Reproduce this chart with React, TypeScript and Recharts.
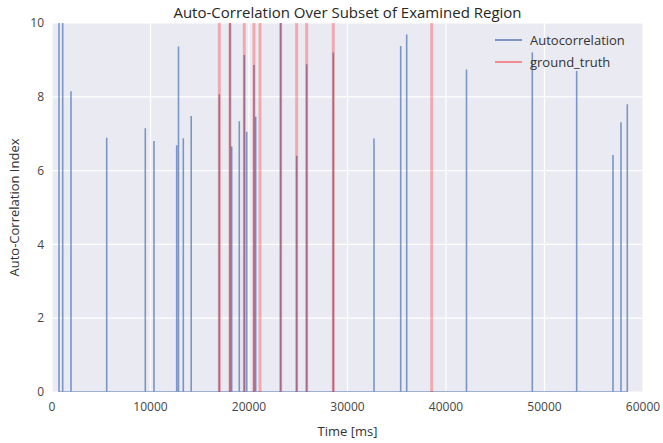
import React from 'react';
import { LineChart, Line, XAxis, YAxis, CartesianGrid, Label } from 'recharts';

// autocorrelation peaks (time in ms, index value)
const spikeTimes = [
  711, 1086, 1929, 5553, 9472, 10355, 12659, 12842, 13330, 14131, 16985, 18071, 18243, 19015, 19522, 19766,
  20507, 20680, 23218, 24842, 25857, 28558, 32689, 35400, 36010, 42080, 48760, 53267, 56952, 57765, 58405,
];
const spikeValues = [
  10.6, 10.6, 8.15, 6.89, 7.15, 6.8, 6.69, 9.36, 6.88, 7.48, 8.07, 10.6, 6.65, 7.34, 9.13, 7.05,
  8.86, 7.46, 10.6, 6.4, 8.88, 9.2, 6.87, 9.38, 9.69, 8.74, 9.2, 8.7, 6.42, 7.31, 7.8,
];
const groundTruth = [16985, 18071, 19522, 20507, 21117, 23218, 24842, 25857, 28558, 38547];

const xTicks = [0, 10000, 20000, 30000, 40000, 50000, 60000];
const yTicks = [0, 2, 4, 6, 8, 10];

const FONT = '"Open Sans", "Liberation Sans", sans-serif';

// each peak drawn as 0 -> value -> 0 like a plain line plot
const autoData = spikeTimes.flatMap((t, i) => [
  { t, v: 0 },
  { t, v: spikeValues[i] },
  { t, v: 0 },
]);

// ground truth markers: full height vertical segments, broken between
const truthData = groundTruth.flatMap((t) => [
  { t, g: 0 },
  { t, g: 11 },
  { t, g: null },
]);

const legendItems = [
  { name: 'Autocorrelation', color: '#4C72B0', op: 0.7 },
  { name: 'ground_truth', color: '#ff0000', op: 0.4 },
];

export default function App() {
  return (
    <div style={{ position: 'relative', width: 663, height: 443, background: '#fff' }}>
      <style>{'body{margin:0}'}</style>
      <div
        style={{
          position: 'absolute',
          top: 2,
          left: 52,
          width: 591,
          textAlign: 'center',
          fontFamily: FONT,
          fontSize: 15,
          color: '#262626',
          zIndex: 2,
        }}
      >
        Auto-Correlation Over Subset of Examined Region
      </div>
      <div
        style={{
          position: 'absolute',
          top: 29,
          left: 493,
          fontFamily: FONT,
          fontSize: 13,
          color: '#333',
          zIndex: 2,
        }}
      >
        {legendItems.map((it) => (
          <div key={it.name} style={{ display: 'flex', alignItems: 'center', height: 22 }}>
            <svg width={37} height={10}>
              <line x1={2} y1={5} x2={29} y2={5} stroke={it.color} strokeOpacity={it.op} strokeWidth={2} />
            </svg>
            <span>{it.name}</span>
          </div>
        ))}
      </div>
      <LineChart width={663} height={443} margin={{ top: 23, right: 20, bottom: 0, left: 0 }}>
        <CartesianGrid fill="#EAEAF2" stroke="#ffffff" strokeWidth={1.2} />
        <XAxis
          dataKey="t"
          type="number"
          domain={[0, 60000]}
          ticks={xTicks}
          height={51}
          tickLine={false}
          axisLine={false}
          tickMargin={4}
          tick={{ fontSize: 12, fill: '#444', fontFamily: FONT }}
          allowDuplicatedCategory={false}
        >
          <Label
            value="Time [ms]"
            position="insideBottom"
            offset={7}
            style={{ fontSize: 13, fill: '#333', fontFamily: FONT }}
          />
        </XAxis>
        <YAxis
          type="number"
          domain={[0, 10]}
          ticks={yTicks}
          allowDataOverflow
          width={52}
          tickLine={false}
          axisLine={false}
          tick={{ fontSize: 12, fill: '#444', fontFamily: FONT }}
        >
          <Label
            value="Auto-Correlation Index"
            angle={-90}
            position="insideLeft"
            offset={14}
            style={{ fontSize: 13, fill: '#333', fontFamily: FONT, textAnchor: 'middle' }}
          />
        </YAxis>
        <Line
          data={autoData}
          dataKey="v"
          name="Autocorrelation"
          type="linear"
          stroke="#4C72B0"
          strokeOpacity={0.7}
          strokeWidth={1.6}
          dot={false}
          activeDot={false}
          isAnimationActive={false}
        />
        <Line
          data={truthData}
          dataKey="g"
          name="ground_truth"
          type="linear"
          stroke="#ff0000"
          strokeOpacity={0.28}
          strokeWidth={3}
          dot={false}
          activeDot={false}
          connectNulls={false}
          isAnimationActive={false}
        />
      </LineChart>
    </div>
  );
}
